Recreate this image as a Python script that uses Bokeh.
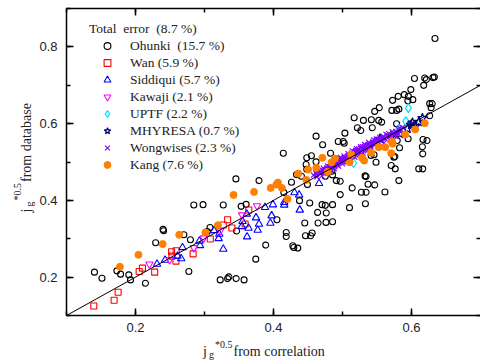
import math
from bokeh.plotting import figure
from bokeh.layouts import row, column
from bokeh.models import (Range1d, LinearAxis, SingleIntervalTicker, Legend, LegendItem,
                          Label, Slope, CustomJSTickFormatter)
from bokeh.embed import file_html
from bokeh.resources import INLINE

# ---------------- data ----------------
ohunki_x = [0.2845, 0.2979, 0.2399, 0.2407, 0.2701, 0.2292, 0.2796, 0.1405, 0.1514, 0.1730,
            0.1784, 0.1903, 0.1928, 0.2144, 0.2773, 0.3455, 0.3790, 0.4333, 0.4405, 0.4751,
            0.4848, 0.4261, 0.4492, 0.3272, 0.3531, 0.3603, 0.4150, 0.4377, 0.4525, 0.4704,
            0.4751, 0.4856, 0.4640, 0.4765, 0.4761, 0.4856, 0.4646, 0.4453, 0.4050, 0.3465,
            0.3080, 0.3041, 0.4185, 0.4185, 0.4463, 0.4539, 0.4560, 0.3887, 0.4280, 0.4294,
            0.4352, 0.3743, 0.3228, 0.3335, 0.3354, 0.3459, 0.3574,
            0.6340, 0.6043, 0.6192, 0.6216, 0.6311, 0.6331, 0.5990, 0.6177, 0.5896, 0.5954,
            0.5947, 0.6019, 0.5807, 0.5726, 0.5716, 0.5784, 0.5817, 0.6264, 0.6300, 0.6285,
            0.5533, 0.5467, 0.5169, 0.5303, 0.5418, 0.5525, 0.5568, 0.5784, 0.5216, 0.5265,
            0.5432, 0.5035, 0.4938, 0.5010, 0.5025, 0.5951, 0.6167, 0.6225, 0.5793, 0.5827,
            0.6158, 0.6264,
            0.4712, 0.4827, 0.6163, 0.5759, 0.5745, 0.5414, 0.5457, 0.5486, 0.5706, 0.5764,
            0.6105, 0.6163, 0.5817, 0.4856, 0.4910, 0.4967, 0.5327, 0.5342, 0.5370, 0.5467,
            0.5140, 0.5274, 0.5342, 0.5615, 0.4967, 0.5101, 0.5332,
            0.4617, 0.4142, 0.4482, 0.4549, 0.4617, 0.4473, 0.4482, 0.4761]
ohunki_y = [0.3880, 0.3888, 0.3243, 0.3209, 0.3104, 0.2895, 0.2973, 0.2129, 0.1972, 0.2163,
            0.2077, 0.2059, 0.1928, 0.1842, 0.2145, 0.4560, 0.4515, 0.4672, 0.4628, 0.4628,
            0.4758, 0.4471, 0.4411, 0.3880, 0.3844, 0.3896, 0.4202, 0.3993, 0.3933, 0.3888,
            0.3870, 0.3888, 0.3687, 0.3671, 0.3426, 0.3444, 0.3410, 0.3410, 0.3496, 0.3201,
            0.3295, 0.3190, 0.3164, 0.3060, 0.3078, 0.3078, 0.3148, 0.2835, 0.2817, 0.2772,
            0.2756, 0.2469, 0.1928, 0.1962, 0.2006, 0.1962, 0.1928,
            0.8219, 0.7174, 0.7189, 0.7147, 0.7200, 0.7215, 0.6886, 0.6998, 0.6755, 0.6711,
            0.6593, 0.6625, 0.6711, 0.6606, 0.6345, 0.6345, 0.6379, 0.6520, 0.6520, 0.6416,
            0.6416, 0.6319, 0.6154, 0.6084, 0.6102, 0.6084, 0.6039, 0.5997, 0.5893, 0.5822,
            0.5893, 0.5752, 0.5535, 0.5535, 0.5490, 0.5605, 0.5587, 0.5561, 0.5561, 0.5370,
            0.5396, 0.6207,
            0.5449, 0.5229, 0.5213, 0.5143, 0.5124, 0.5169, 0.5187, 0.4994, 0.4907, 0.4821,
            0.4821, 0.4821, 0.4515, 0.4664, 0.4515, 0.4497, 0.4638, 0.4620, 0.4419, 0.4403,
            0.4325, 0.4210, 0.4210, 0.4220, 0.4150, 0.3810, 0.3914,
            0.5673, 0.5229, 0.5109, 0.5161, 0.5004, 0.4934, 0.4811, 0.4777]

wan_x = [0.1395, 0.1690, 0.1748, 0.2053, 0.2101, 0.2278, 0.2523, 0.2590, 0.2586, 0.2528,
         0.2835, 0.3335, 0.3642, 0.3272, 0.3397, 0.3084, 0.3589]
wan_y = [0.1248, 0.1397, 0.1606, 0.2145, 0.2234, 0.2129, 0.2660, 0.2686, 0.2417, 0.2547,
         0.2607, 0.3496, 0.3750, 0.3358, 0.3279, 0.2992, 0.3384]

siddiqui_x = [0.2312, 0.2428, 0.2609, 0.2681, 0.2662, 0.2926, 0.2936, 0.4660, 0.4304, 0.4372,
              0.4381, 0.4156, 0.4156, 0.3992, 0.3877, 0.3973, 0.3954, 0.3747, 0.3790, 0.3771,
              0.3638, 0.3617, 0.3551, 0.3541, 0.3613, 0.3214, 0.3205, 0.3138, 0.3272]
siddiqui_y = [0.2338, 0.2443, 0.2547, 0.2772, 0.2485, 0.2939, 0.2824, 0.4445, 0.4202, 0.4142,
              0.3750, 0.3948, 0.3880, 0.3888, 0.3818, 0.3601, 0.3410, 0.3548, 0.3384, 0.3227,
              0.3279, 0.3052, 0.3452, 0.3321, 0.3645, 0.3122, 0.3007, 0.3216, 0.2730]

kawaji_x = [0.2201, 0.2494, 0.2845, 0.2989, 0.3228, 0.3545, 0.3761]
kawaji_y = [0.2338, 0.2451, 0.2764, 0.3018, 0.3209, 0.3619, 0.3854]

uptf_x = [0.5954, 0.5918, 0.5817, 0.5159]
uptf_y = [0.6405, 0.6065, 0.5862, 0.4973]

mhyresa_x = [0.6158, 0.6014, 0.5994, 0.5942, 0.5831, 0.5712, 0.5543, 0.6058, 0.6105]
mhyresa_y = [0.6144, 0.6024, 0.5971, 0.5867, 0.5736, 0.5665, 0.5605, 0.5935, 0.6044]

wong_x = [0.458, 0.461, 0.463, 0.466, 0.468, 0.470, 0.472, 0.474, 0.476, 0.478,
          0.480, 0.482, 0.484, 0.486, 0.488, 0.490, 0.492, 0.494, 0.496, 0.498,
          0.500, 0.502, 0.504, 0.506, 0.508, 0.510, 0.512, 0.514, 0.516, 0.518,
          0.520, 0.522, 0.524, 0.526, 0.528, 0.530, 0.532, 0.534, 0.536, 0.538,
          0.540, 0.542, 0.545, 0.548, 0.551, 0.554, 0.557, 0.560, 0.563, 0.566,
          0.569, 0.572, 0.575, 0.578, 0.581, 0.584, 0.587, 0.497, 0.507, 0.517,
          0.527, 0.537, 0.547, 0.512, 0.522, 0.532, 0.502, 0.485, 0.475, 0.543,
          0.553, 0.558, 0.565,
          0.462, 0.467, 0.471, 0.473, 0.477, 0.479, 0.481, 0.483, 0.487, 0.489,
          0.491, 0.493, 0.495, 0.499, 0.501, 0.503, 0.505, 0.509, 0.511, 0.513,
          0.515, 0.519, 0.521, 0.523, 0.525, 0.529, 0.531, 0.533, 0.535, 0.539,
          0.541, 0.544, 0.546, 0.549, 0.552, 0.555, 0.559, 0.562, 0.567, 0.570,
          0.573, 0.577, 0.580, 0.583]
wong_y = [0.466, 0.472, 0.461, 0.478, 0.470, 0.464, 0.484, 0.476, 0.471, 0.490,
          0.482, 0.476, 0.497, 0.489, 0.483, 0.503, 0.495, 0.489, 0.510, 0.502,
          0.495, 0.516, 0.508, 0.500, 0.522, 0.513, 0.506, 0.529, 0.520, 0.512,
          0.535, 0.526, 0.518, 0.540, 0.532, 0.523, 0.546, 0.538, 0.529, 0.551,
          0.543, 0.535, 0.558, 0.549, 0.542, 0.565, 0.556, 0.549, 0.572, 0.563,
          0.557, 0.579, 0.571, 0.566, 0.585, 0.578, 0.590, 0.512, 0.515, 0.527,
          0.537, 0.545, 0.556, 0.520, 0.531, 0.540, 0.506, 0.492, 0.480, 0.548,
          0.558, 0.562, 0.570,
          0.468, 0.474, 0.478, 0.470, 0.484, 0.476, 0.488, 0.482, 0.496, 0.488,
          0.499, 0.492, 0.503, 0.508, 0.500, 0.512, 0.505, 0.517, 0.510, 0.523,
          0.515, 0.530, 0.521, 0.534, 0.527, 0.540, 0.534, 0.544, 0.535, 0.548,
          0.540, 0.553, 0.545, 0.560, 0.552, 0.561, 0.567, 0.560, 0.574, 0.566,
          0.576, 0.580, 0.575, 0.588]

kang_x = [0.1774, 0.2043, 0.2393, 0.2634, 0.3012, 0.3421, 0.3718, 0.3959, 0.4041, 0.4064,
          0.4122, 0.4358, 0.4477, 0.4204, 0.3195, 0.4708, 0.4891, 0.4842, 0.4502, 0.4621,
          0.4784, 0.5126, 0.5101, 0.5284, 0.5313, 0.5414, 0.5525, 0.5620, 0.5716, 0.5726,
          0.5706, 0.5908, 0.6052, 0.6192]
kang_y = [0.2268, 0.2581, 0.2861, 0.3104, 0.3164, 0.4142, 0.4220, 0.4325, 0.4411, 0.4463,
          0.4325, 0.4698, 0.4534, 0.4037, 0.3352, 0.5109, 0.5090, 0.4994, 0.4803, 0.4847,
          0.4743, 0.5195, 0.4994, 0.5109, 0.5038, 0.5247, 0.5386, 0.5386, 0.5535, 0.5475,
          0.5229, 0.5718, 0.5848, 0.6013]

legend_title = "Total  error  (8.7 %)"
series_labels = ["Ohunki  (15.7 %)", "Wan (5.9 %)", "Siddiqui (5.7 %)", "Kawaji (2.1 %)",
                 "UPTF (2.2 %)", "MHYRESA (0.7 %)", "Wongwises (2.3 %)", "Kang (7.6 %)"]

x_label_main = "from correlation"
y_label_main = "from database"

SERIF = "Liberation Serif"
SANS = "Liberation Sans"

# ---------------- main figure ----------------
p = figure(width=444, height=338, x_range=Range1d(0.1, 0.7), y_range=Range1d(0.1, 0.9),
           output_backend="svg", toolbar_location=None, x_axis_type=None, y_axis_type=None,
           min_border_left=28, min_border_right=0, min_border_top=8, min_border_bottom=23)
p.background_fill_color = "white"
p.border_fill_color = "white"
p.outline_line_color = None


def make_axis(labels=True, line=True, standoff=9):
    ax = LinearAxis(ticker=SingleIntervalTicker(interval=0.2, num_minor_ticks=2))
    ax.major_tick_in = 7
    ax.major_tick_out = 0
    ax.minor_tick_in = 4
    ax.minor_tick_out = 0
    ax.axis_line_width = 1.5
    ax.major_tick_line_width = 1.5
    ax.minor_tick_line_width = 1.5
    ax.axis_line_color = "black" if line else None
    ax.major_tick_line_color = "black"
    ax.minor_tick_line_color = "black"
    if labels:
        ax.formatter = CustomJSTickFormatter(code="return tick.toFixed(1);")
        ax.major_label_text_font = SANS
        ax.major_label_text_font_size = "13px"
        ax.major_label_text_color = "#222222"
        ax.major_label_standoff = standoff
    else:
        ax.formatter = CustomJSTickFormatter(code="return '';")
        ax.major_label_text_font_size = "0px"
        ax.major_label_standoff = 0
    return ax


p.add_layout(make_axis(True, standoff=7), "below")
p.add_layout(make_axis(True, standoff=9), "left")
p.add_layout(make_axis(False), "above")
p.add_layout(make_axis(False, line=False), "right")

p.add_layout(Slope(gradient=1, y_intercept=0, line_color="black", line_width=1))

r_oh = p.scatter(ohunki_x, ohunki_y, marker="circle", size=6, fill_color=None,
                 line_color="black", line_width=1.1)
r_wan = p.scatter(wan_x, wan_y, marker="square", size=6, fill_color=None,
                  line_color="#ff0000", line_width=1.1)
r_sid = p.scatter(siddiqui_x, siddiqui_y, marker="triangle", size=7.5, fill_color=None,
                  line_color="#0000ff", line_width=1.1)
r_kaw = p.scatter(kawaji_x, kawaji_y, marker="inverted_triangle", size=7.5, fill_color=None,
                  line_color="#ff00ff", line_width=1.1)
r_upt = p.scatter(uptf_x, uptf_y, marker="diamond", size=9, fill_color=None,
                  line_color="#00e5ff", line_width=1.2)
r_mhy = p.scatter(mhyresa_x, mhyresa_y, marker="star", size=10, fill_color=None,
                  line_color="#000080", line_width=1.2)
r_won = p.scatter(wong_x, wong_y, marker="x", size=7, line_color="#8000ff", line_width=1.1)
r_kan = p.scatter(kang_x, kang_y, marker="circle", size=7, fill_color="#ff8000",
                  line_color="#ff8000", line_width=1)

renderers = [r_oh, r_wan, r_sid, r_kaw, r_upt, r_mhy, r_won, r_kan]
items = [LegendItem(label=lab, renderers=[r]) for lab, r in zip(series_labels, renderers)]

legend = Legend(items=items, location=(23, 142), title=legend_title,
                title_text_font=SERIF, title_text_font_size="13.5px",
                title_text_font_style="normal", title_text_color="#222222",
                title_standoff=-2,
                label_text_font=SERIF, label_text_font_size="13.5px",
                label_text_color="#222222",
                glyph_width=36, glyph_height=17, label_height=17, label_standoff=5,
                spacing=0, padding=0, margin=0,
                border_line_color=None, background_fill_alpha=0)
p.add_layout(legend)


# ---- axis titles (j, subscript g, superscript *0.5) in their own strips ----
def strip(w, h):
    f = figure(width=w, height=h, x_range=Range1d(0, 1), y_range=Range1d(0, 1),
               output_backend="svg", toolbar_location=None, x_axis_type=None,
               y_axis_type=None, min_border=0)
    f.outline_line_color = None
    f.background_fill_color = "white"
    f.border_fill_color = "white"
    return f


def lab(text, x, y, size, angle=0.0):
    return Label(x=x, y=y, x_units="screen", y_units="screen", text=text,
                 text_font=SERIF, text_font_size=size, text_color="#222222",
                 text_baseline="alphabetic", text_align="left", angle=angle)


fx = strip(444, 25)   # its frame is aligned with the main frame (starts at canvas x 64)
fx.add_layout(lab("j", 136.5, 12.4, "14px"))
fx.add_layout(lab("g", 142.5, 9.2, "10px"))
fx.add_layout(lab("*0.5", 148.5, 19.5, "10px"))
fx.add_layout(lab(x_label_main, 167, 12.4, "14px"))

fy = strip(36, 363)   # spans canvas x 0..36
a = math.pi / 2
fy.add_layout(lab("j", 26.3, 151, "14px", a))
fy.add_layout(lab("g", 28.8, 157, "10px", a))
fy.add_layout(lab("*0.5", 16.8, 163, "10px", a))
fy.add_layout(lab(y_label_main, 26.3, 181.5, "14px", a))

layout = row(fy, column(p, fx, spacing=0), spacing=0)

open("out.html", "w").write(file_html(layout, INLINE))
